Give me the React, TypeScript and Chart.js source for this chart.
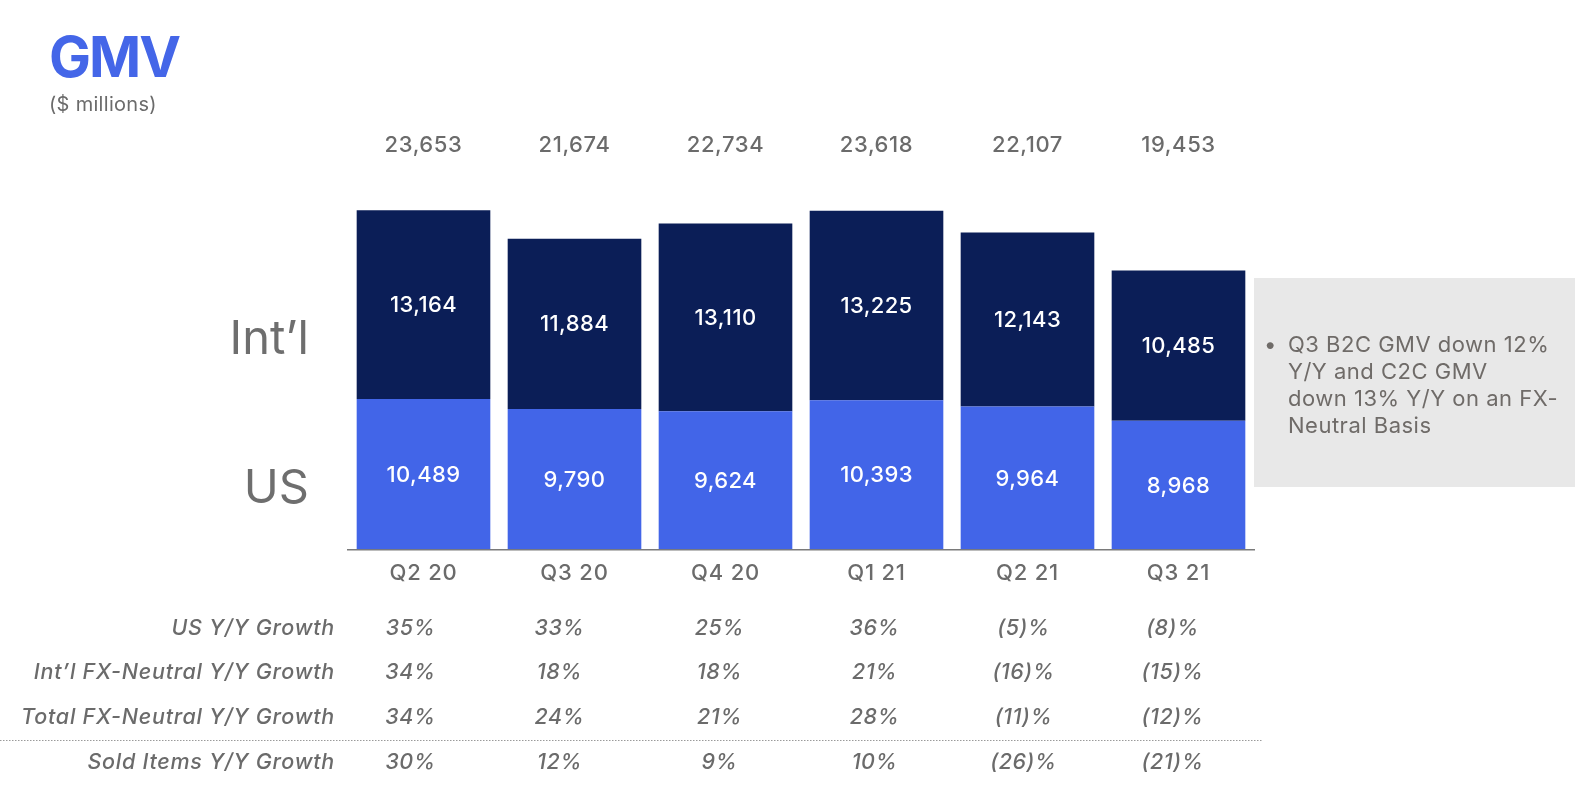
import React, { useEffect, useRef } from "react";
import { Chart, registerables } from "chart.js";

Chart.register(...registerables);

const categories = ["Q2 20", "Q3 20", "Q4 20", "Q1 21", "Q2 21", "Q3 21"];
const usValues = [10489, 9790, 9624, 10393, 9964, 8968];
const intlValues = [13164, 11884, 13110, 13225, 12143, 10485];
const totalValues = [23653, 21674, 22734, 23618, 22107, 19453];

const tableRowLabels = [
  "US Y/Y Growth",
  "Int\u2019l FX-Neutral Y/Y Growth",
  "Total FX-Neutral Y/Y Growth",
  "Sold Items Y/Y Growth",
];
const usGrowth = ["35%", "33%", "25%", "36%", "(5)%", "(8)%"];
const intlGrowth = ["34%", "18%", "18%", "21%", "(16)%", "(15)%"];
const totalGrowth = ["34%", "24%", "21%", "28%", "(11)%", "(12)%"];
const soldItemsGrowth = ["30%", "12%", "9%", "10%", "(26)%", "(21)%"];

const noteLines = [
  "Q3 B2C GMV down 12%",
  "Y/Y and C2C GMV",
  "down 13% Y/Y on an FX-",
  "Neutral Basis",
];

const FONT = "Inter, 'Noto Sans', sans-serif";
const US_COLOR = "#4265E8";
const INTL_COLOR = "#0B1E57";
const GRAY = "#6b6b6b";
const TABLE_COL_SHIFT = [-13, -15, -6, -2, -4, -6];

const W = 1584;
const H = 800;
const X_AXIS_H = 40;
const BASE_Y = 549.3;

const spacingPlugin = {
  id: "spacing",
  beforeDraw(chart: any) {
    (chart.ctx as any).letterSpacing = "0.8px";
  },
};

const overlayPlugin = {
  id: "overlay",
  afterDatasetsDraw(chart: any) {
    const ctx = chart.ctx as any;
    const xs = chart.scales.x;
    ctx.save();

    // Title
    ctx.letterSpacing = "-2px";
    ctx.fillStyle = "#4466E8";
    ctx.font = `700 56px ${FONT}`;
    ctx.textAlign = "left";
    ctx.textBaseline = "alphabetic";
    ctx.fillText("GMV", 49, 77);
    ctx.letterSpacing = "0.3px";
    ctx.fillStyle = GRAY;
    ctx.font = `400 20px ${FONT}`;
    ctx.fillText("($ millions)", 49, 111);

    // Series labels
    ctx.letterSpacing = "0px";
    ctx.fillStyle = "#6e6e6e";
    ctx.font = `400 47px ${FONT}`;
    ctx.textAlign = "right";
    ctx.fillText("Int\u2019l", 309, 354);
    ctx.fillText("US", 309, 503);

    // Segment values
    ctx.letterSpacing = "0.4px";
    ctx.textAlign = "center";
    ctx.textBaseline = "middle";
    ctx.fillStyle = "#ffffff";
    ctx.font = `500 22px ${FONT}`;
    chart.data.datasets.forEach((ds: any, di: number) => {
      const meta = chart.getDatasetMeta(di);
      meta.data.forEach((el: any, i: number) => {
        const cy = (el.y + el.base) / 2;
        ctx.fillText(ds.data[i].toLocaleString("en-US"), el.x, cy + 1);
      });
    });

    // Totals
    ctx.letterSpacing = "0.6px";
    ctx.fillStyle = GRAY;
    ctx.font = `500 22px ${FONT}`;
    ctx.textBaseline = "alphabetic";
    totalValues.forEach((v, i) => {
      ctx.fillText(v.toLocaleString("en-US"), xs.getPixelForValue(i), 152.3);
    });

    // Note box
    ctx.fillStyle = "#e8e8e8";
    ctx.fillRect(1254, 278, 321, 209);
    ctx.fillStyle = "#6f6b68";
    ctx.font = `400 22px ${FONT}`;
    ctx.textAlign = "left";
    ctx.letterSpacing = "0.5px";
    ctx.fillText("\u2022", 1264, 351.5);
    noteLines.forEach((t, i) => {
      ctx.fillText(t, 1288, 351.5 + i * 27.3);
    });

    // Table
    const rows = [usGrowth, intlGrowth, totalGrowth, soldItemsGrowth];
    const baselines = [635, 679.3, 724, 769];
    ctx.font = `italic 500 21.5px ${FONT}`;
    ctx.fillStyle = GRAY;
    rows.forEach((row, r) => {
      ctx.letterSpacing = "0.75px";
      ctx.textAlign = "right";
      ctx.fillText(tableRowLabels[r], 335, baselines[r]);
      ctx.letterSpacing = "0.5px";
      ctx.textAlign = "center";
      row.forEach((v, i) => {
        ctx.fillText(v, xs.getPixelForValue(i) + TABLE_COL_SHIFT[i], baselines[r]);
      });
    });

    // Dotted separator
    ctx.strokeStyle = "#9a9a9a";
    ctx.lineWidth = 1;
    ctx.setLineDash([1.5, 1.5]);
    ctx.beginPath();
    ctx.moveTo(0, 740.5);
    ctx.lineTo(1262, 740.5);
    ctx.stroke();

    ctx.restore();
  },
  afterDraw(chart: any) {
    (chart.ctx as any).letterSpacing = "0px";
  },
};

export default function App() {
  const ref = useRef<HTMLCanvasElement>(null);

  useEffect(() => {
    const pxPerUnit = (BASE_Y - 210.3) / totalValues[0];
    const yMax = 26000;
    const top = BASE_Y - yMax * pxPerUnit;
    const chart = new Chart(ref.current as HTMLCanvasElement, {
      type: "bar",
      data: {
        labels: categories,
        datasets: [
          { label: "US", data: usValues, backgroundColor: US_COLOR, stack: "s" },
          { label: "Int'l", data: intlValues, backgroundColor: INTL_COLOR, stack: "s" },
        ],
      },
      options: {
        responsive: false,
        animation: false,
        devicePixelRatio: 1,
        layout: {
          padding: { left: 348, right: W - 1254, top: top, bottom: H - BASE_Y - X_AXIS_H },
        },
        plugins: { legend: { display: false }, tooltip: { enabled: false } },
        datasets: { bar: { barPercentage: 0.885, categoryPercentage: 1 } },
        scales: {
          x: {
            stacked: true,
            grid: { display: false },
            border: { display: true, color: "#7a7a7a", width: 1.5 },
            ticks: { color: GRAY, font: { family: FONT, size: 22, weight: 500 }, padding: 3 },
            afterFit: (s: any) => { s.height = X_AXIS_H; },
          },
          y: { stacked: true, display: false, min: 0, max: yMax },
        },
      },
      plugins: [spacingPlugin, overlayPlugin],
    });
    return () => chart.destroy();
  }, []);

  return (
    <div style={{ position: "absolute", left: 0, top: 0, width: W, height: H, background: "#fff" }}>
      <canvas ref={ref} width={W} height={H} style={{ display: "block" }} />
    </div>
  );
}
